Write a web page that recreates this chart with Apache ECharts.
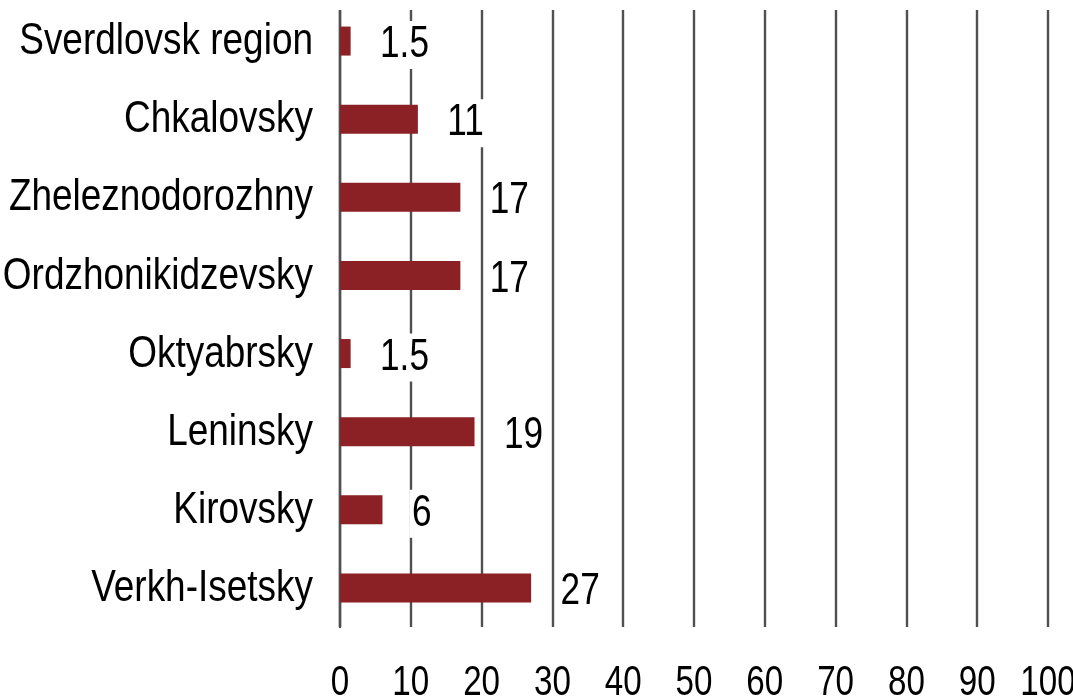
<!DOCTYPE html>
<html>
<head>
<meta charset="utf-8">
<script src="https://cdn.jsdelivr.net/npm/echarts@6/dist/echarts.min.js"></script>
<style>html,body{margin:0;padding:0;background:#fff;}#c{width:1073px;height:696px;}</style>
</head>
<body>
<div id="c"></div>
<script>
const categories = ['Verkh-Isetsky','Kirovsky','Leninsky','Oktyabrsky','Ordzhonikidzevsky','Zheleznodorozhny','Chkalovsky','Sverdlovsk region'];
const values = [27, 6, 19, 1.5, 17, 17, 11, 1.5];
const xTicks = [0,10,20,30,40,50,60,70,80,90,100];

const FONT = '"Liberation Sans", Arial, sans-serif';
const chart = echarts.init(document.getElementById('c'));

function condensedText(x, y, text, size, scale, align, extra) {
  return {
    type: 'text', x: x, y: y, scaleX: scale, scaleY: 1, silent: true,
    style: Object.assign({
      x: 0, y: 0, text: text, fill: '#000',
      fontSize: size, fontFamily: FONT,
      align: align, verticalAlign: 'middle'
    }, extra || {})
  };
}

chart.setOption({
  backgroundColor: '#fff',
  animation: false,
  grid: { left: 340, right: 25, top: 2, bottom: 69, containLabel: false, outerBoundsMode: 'none' },
  xAxis: {
    type: 'value', min: xTicks[0], max: xTicks[xTicks.length-1], interval: 10,
    axisLine: { show: false }, axisTick: { show: false },
    splitLine: { show: true, lineStyle: { color: '#505050', width: 2.4 } },
    axisLabel: { show: false }
  },
  yAxis: {
    type: 'category', data: categories,
    axisLine: { show: true, lineStyle: { color: '#505050', width: 2.4 } },
    axisTick: { show: false },
    axisLabel: { show: false }
  },
  graphic: [{
    type: 'rect', shape: { x: 330, y: 0, width: 743, height: 10 },
    style: { fill: '#fff' }, z: 100, silent: true
  }],
  series: [{
    type: 'bar', data: values, barWidth: 29,
    itemStyle: { color: '#8B2025' }
  }, {
    // category labels
    type: 'custom', silent: true, z: 5,
    data: categories.map((c, i) => [0, i]),
    renderItem: function (params, api) {
      const p = api.coord([0, api.value(1)]);
      return condensedText(p[0] - 27, p[1] + 1, categories[params.dataIndex], 44, 0.84, 'right');
    }
  }, {
    // value labels
    type: 'custom', silent: true, z: 5,
    data: values.map((v, i) => [v, i]),
    renderItem: function (params, api) {
      const p = api.coord([api.value(0), api.value(1)]);
      return condensedText(p[0] + 27, p[1] + 4, String(values[params.dataIndex]), 44, 0.8, 'left',
        { backgroundColor: '#fff', padding: [2, 3] });
    }
  }, {
    // x axis tick labels
    type: 'custom', silent: true, z: 5,
    data: xTicks.map(v => [v, 0]),
    renderItem: function (params, api) {
      const p = api.coord([api.value(0), 0]);
      const cs = params.coordSys;
      return condensedText(p[0], cs.y + cs.height + 56, String(xTicks[params.dataIndex]), 42, 0.79, 'center');
    }
  }]
});
</script>
</body>
</html>
